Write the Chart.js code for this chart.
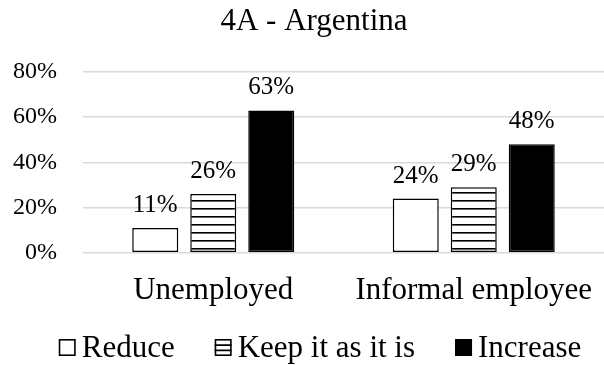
<!DOCTYPE html>
<html>
<head>
<meta charset="utf-8">
<script src="https://cdn.jsdelivr.net/npm/chart.js@4"></script>
<style>
  html, body { margin: 0; padding: 0; background: #fff; }
  #grafico { display: block; }
</style>
</head>
<body>
<canvas id="grafico" width="604" height="365"></canvas>
<script>
// categorias e séries
const categorias = ['Unemployed', 'Informal employee'];
const reduzir = [0.11, 0.24];
const manter = [0.26, 0.29];
const aumentar = [0.63, 0.48];
const nomesSeries = ['Reduce', 'Keep it as it is', 'Increase'];
const ticksY = [0, 0.2, 0.4, 0.6, 0.8];
const titulo = '4A - Argentina';

const fonte = '"Liberation Serif", "Times New Roman", serif';

// listras horizontais para a série do meio
function criaListras(ctx) {
    const c = document.createElement('canvas');
    c.width = 8;
    c.height = 8;
    const g = c.getContext('2d');
    g.fillStyle = '#fff';
    g.fillRect(0, 0, 8, 8);
    g.fillStyle = '#000';
    g.fillRect(0, 0, 8, 1.6);
    return ctx.createPattern(c, 'repeat');
}
const listras = criaListras(document.getElementById('grafico').getContext('2d'));

// rótulos de porcentagem acima das barras
const rotulosPlugin = {
    id: 'rotulosPlugin',
    afterDatasetsDraw: (chart) => {
        const { ctx } = chart;
        ctx.save();
        ctx.font = '25px ' + fonte;
        ctx.fillStyle = '#000';
        ctx.textAlign = 'center';
        ctx.textBaseline = 'alphabetic';
        chart.data.datasets.forEach((ds, i) => {
            chart.getDatasetMeta(i).data.forEach((bar, j) => {
                const txt = Math.round(ds.data[j] * 100) + '%';
                ctx.fillText(txt, bar.x, bar.y - 16);
            });
        });
        ctx.restore();
    }
};

// título e legenda desenhados à mão (espaçamento mais justo que o padrão)
const tituloLegendaPlugin = {
    id: 'tituloLegendaPlugin',
    afterDraw: (chart) => {
        const { ctx } = chart;
        ctx.save();
        ctx.fillStyle = '#000';
        ctx.font = '31px ' + fonte;
        ctx.textBaseline = 'alphabetic';
        ctx.textAlign = 'center';
        ctx.fillText(titulo, 314, 30);

        const caixa = 17, gapTxt = 6, gapItem = 40;
        ctx.textAlign = 'left';
        const larguras = nomesSeries.map(n => ctx.measureText(n).width);
        const total = larguras.reduce((a, w) => a + caixa + gapTxt + w, 0) + gapItem * (nomesSeries.length - 1);
        let x = 320 - total / 2;
        const yBase = 357;
        chart.data.datasets.forEach((ds, i) => {
            const yc = yBase - caixa - 1;
            ctx.fillStyle = ds.backgroundColor === listras ? '#fff' : ds.backgroundColor;
            ctx.fillRect(x, yc, caixa, caixa);
            ctx.strokeStyle = '#000';
            ctx.lineWidth = 1.6;
            ctx.strokeRect(x + 0.8, yc + 0.8, caixa - 1.6, caixa - 1.6);
            if (ds.backgroundColor === listras) {
                ctx.beginPath();
                ctx.moveTo(x, yc + caixa / 3 + 0.5);
                ctx.lineTo(x + caixa, yc + caixa / 3 + 0.5);
                ctx.moveTo(x, yc + 2 * caixa / 3);
                ctx.lineTo(x + caixa, yc + 2 * caixa / 3);
                ctx.stroke();
            }
            ctx.fillStyle = '#000';
            ctx.fillText(ds.label, x + caixa + gapTxt, yBase);
            x += caixa + gapTxt + larguras[i] + gapItem;
        });
        ctx.restore();
    }
};

const config = {
    type: 'bar',
    data: {
        labels: categorias,
        datasets: [{
            label: nomesSeries[0],
            data: reduzir,
            backgroundColor: '#fff',
            borderColor: '#000',
            borderWidth: 1.5,
            borderSkipped: false
        }, {
            label: nomesSeries[1],
            data: manter,
            backgroundColor: listras,
            borderColor: '#000',
            borderWidth: 1.5,
            borderSkipped: false
        }, {
            label: nomesSeries[2],
            data: aumentar,
            backgroundColor: '#000',
            borderColor: '#000',
            borderWidth: 1.5,
            borderSkipped: false
        }]
    },
    options: {
        responsive: false,
        animation: false,
        layout: { padding: { left: 0, right: 0, top: 72, bottom: 37 } },
        datasets: {
            bar: { categoryPercentage: 0.668, barPercentage: 0.793 }
        },
        scales: {
            x: {
                afterFit: (axis) => { axis.paddingLeft = 0; axis.paddingRight = 0; },
                grid: { display: false, drawTicks: false },
                border: { display: false },
                ticks: {
                    color: '#000',
                    font: { family: fonte, size: 31 },
                    padding: 19,
                    maxRotation: 0
                }
            },
            y: {
                min: 0,
                max: 0.8,
                afterBuildTicks: (axis) => {
                    axis.ticks = ticksY.map(v => ({ value: v }));
                },
                afterFit: (axis) => { axis.width = 83; },
                grid: { color: '#d9d9d9', lineWidth: 1.5, drawTicks: false },
                border: { display: false },
                ticks: {
                    color: '#000',
                    font: { family: fonte, size: 24 },
                    padding: 26,
                    callback: (v) => Math.round(v * 100) + '%'
                }
            }
        },
        plugins: {
            title: { display: false },
            legend: { display: false },
            tooltip: { enabled: false }
        }
    },
    plugins: [rotulosPlugin, tituloLegendaPlugin]
};

const grafico = new Chart('grafico', config);
</script>
</body>
</html>
